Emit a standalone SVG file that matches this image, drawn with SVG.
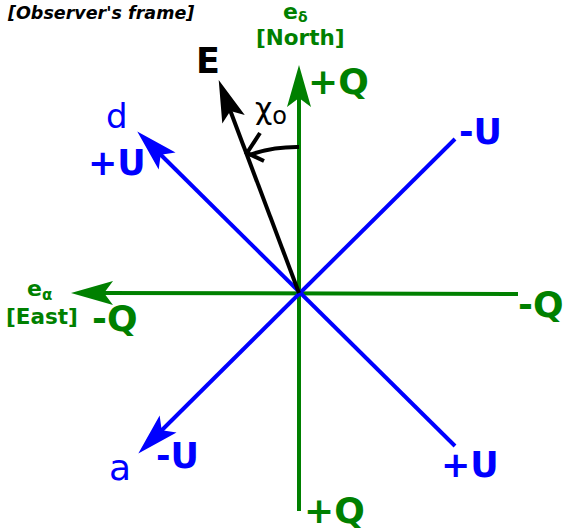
<svg xmlns="http://www.w3.org/2000/svg" width="565" height="530" viewBox="0 0 565 530">
<style>
.g{stroke:#008000;stroke-width:4;fill:none}
.b{stroke:#0000ff;stroke-width:4;fill:none}
.k{stroke:#000;stroke-width:4;fill:none}
.t{font-family:"DejaVu Sans",sans-serif}
.bold{font-weight:bold}
.gt{fill:#008000}
.bt{fill:#0000ff}
</style>
<defs>
<marker id="ag" markerUnits="userSpaceOnUse" viewBox="-15 -15 50 30" markerWidth="50" markerHeight="30" refX="0" refY="0" orient="auto" overflow="visible">
<path d="M32,0 L-10,-12 L-1,0 L-10,12 Z" fill="#008000"/>
</marker>
<marker id="ab" markerUnits="userSpaceOnUse" viewBox="-15 -15 50 30" markerWidth="50" markerHeight="30" refX="0" refY="0" orient="auto" overflow="visible">
<path d="M32,0 L-10,-12 L-1,0 L-10,12 Z" fill="#0000ff"/>
</marker>
<marker id="ak" markerUnits="userSpaceOnUse" viewBox="-15 -15 50 30" markerWidth="50" markerHeight="30" refX="0" refY="0" orient="auto" overflow="visible">
<path d="M32,0 L-10,-12 L-1,0 L-10,12 Z" fill="#000"/>
</marker>
</defs>
<g id="connectors">
<path id="north-axis" class="g" d="M299,511 L299,97" marker-end="url(#ag)"/>
<path id="east-axis" class="g" d="M518,294 L103,293" marker-end="url(#ag)"/>
<path id="d-axis" class="b" d="M455,446 L160,154" marker-end="url(#ab)"/>
<path id="a-axis" class="b" d="M455,139 L161,431" marker-end="url(#ab)"/>
<path id="E-vector" class="k" d="M299,293 L230,110" marker-end="url(#ak)"/>
<path id="chi-arc" class="k" d="M299,147 A146,146 0 0 0 249,155"/>
<path id="chi-arc-head" class="k" d="M260,133 L247,153 L264,161"/>
</g>
<g id="title"><text class="t bold" x="8" y="19" font-size="17.5" font-style="italic">[Observer's frame]</text></g>
<g id="north-label" class="gt">
<text class="t bold" x="283" y="19" font-size="22">e<tspan font-size="14" dy="3">δ</tspan></text>
<text class="t bold" x="256" y="45" font-size="21.5">[North]</text>
</g>
<g id="east-label" class="gt">
<text class="t bold" x="27" y="296" font-size="22">e<tspan font-size="15" dy="4">α</tspan></text>
<text class="t bold" x="6" y="324" font-size="21.5">[East]</text>
</g>
<g id="E-label"><text class="t bold" x="196" y="73" font-size="35">E</text></g>
<g id="chi-label"><text class="t" x="255" y="119" font-size="30">χ<tspan font-size="24" dy="5">o</tspan></text></g>
<g id="q-labels" class="gt">
<text class="t bold" x="308" y="94" font-size="36">+Q</text>
<text class="t bold" x="518" y="317" font-size="36">-Q</text>
<text class="t bold" x="92" y="331" font-size="36">-Q</text>
<text class="t bold" x="304" y="523" font-size="36">+Q</text>
</g>
<g id="u-labels" class="bt">
<text class="t bold" x="88" y="175" font-size="35">+U</text>
<text class="t bold" x="459" y="144" font-size="35">-U</text>
<text class="t bold" x="156" y="468" font-size="35">-U</text>
<text class="t bold" x="441" y="477" font-size="35">+U</text>
</g>
<g id="basis-labels" class="bt">
<text class="t" x="106" y="128" font-size="34">d</text>
<text class="t" x="109" y="480" font-size="36">a</text>
</g>
</svg>
